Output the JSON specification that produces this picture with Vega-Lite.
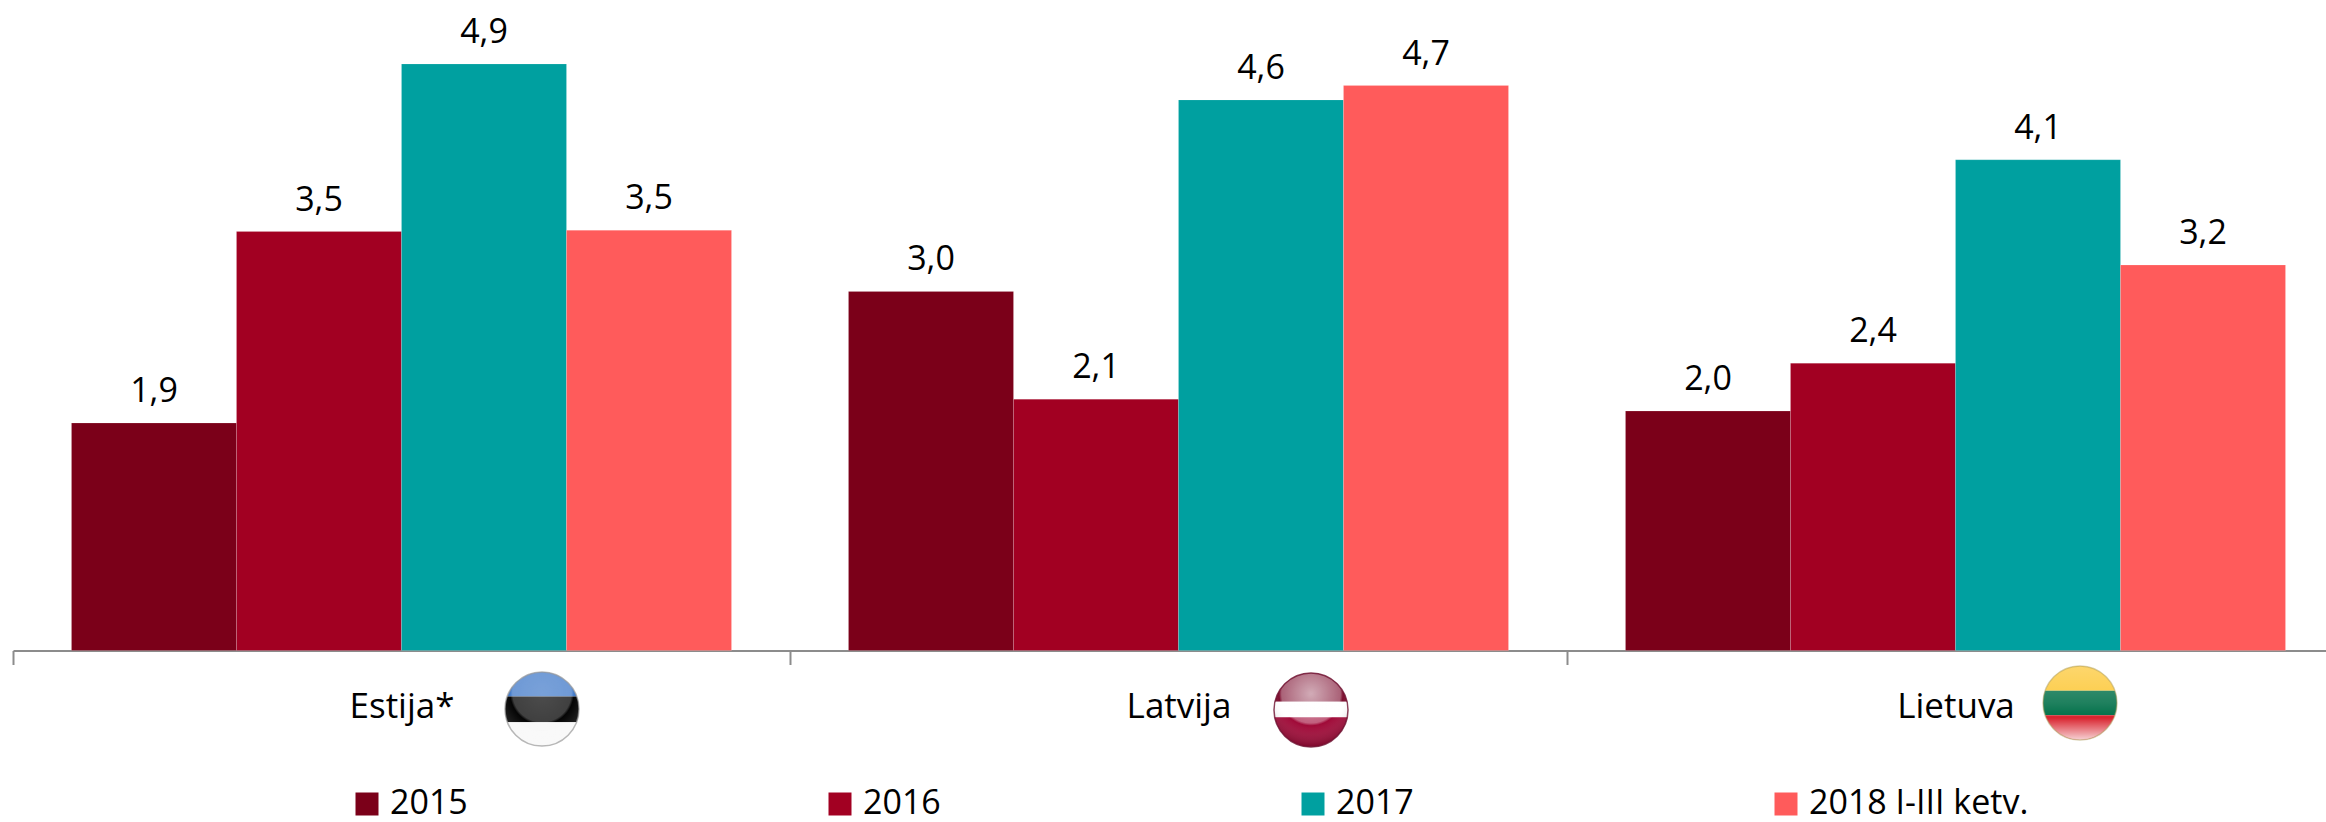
{
"$schema":"https://vega.github.io/schema/vega-lite/v6.json",
"autosize":{"type":"none"},
"width":2331,"height":598.5,
"padding":{"left":13,"top":52,"right":-18,"bottom":171.5},
"background":"white",
"config":{"view":{"stroke":null},"font":"Open Sans"},
"datasets":{
"bars":[
{"country":"Estija*","year":"2015","value":1.9,"label":"1,9"},
{"country":"Estija*","year":"2016","value":3.5,"label":"3,5"},
{"country":"Estija*","year":"2017","value":4.9,"label":"4,9"},
{"country":"Estija*","year":"2018 I-III ketv.","value":3.51,"label":"3,5"},
{"country":"Latvija","year":"2015","value":3.0,"label":"3,0"},
{"country":"Latvija","year":"2016","value":2.1,"label":"2,1"},
{"country":"Latvija","year":"2017","value":4.6,"label":"4,6"},
{"country":"Latvija","year":"2018 I-III ketv.","value":4.72,"label":"4,7"},
{"country":"Lietuva","year":"2015","value":2.0,"label":"2,0"},
{"country":"Lietuva","year":"2016","value":2.4,"label":"2,4"},
{"country":"Lietuva","year":"2017","value":4.1,"label":"4,1"},
{"country":"Lietuva","year":"2018 I-III ketv.","value":3.22,"label":"3,2"}
],
"flags":[
{"country":"Estija*","stripe":"EE1"},{"country":"Estija*","stripe":"EE2"},{"country":"Estija*","stripe":"EE3"},
{"country":"Latvija","stripe":"LV1"},{"country":"Latvija","stripe":"LV2"},{"country":"Latvija","stripe":"LV3"},
{"country":"Lietuva","stripe":"LT1"},{"country":"Lietuva","stripe":"LT2"},{"country":"Lietuva","stripe":"LT3"}
]
},
"encoding":{
"x":{"field":"country","type":"nominal","sort":null,"scale":{"paddingInner":0,"paddingOuter":0},
"axis":{"title":null,"labelAngle":0,"labelFontSize":35,"labelColor":"#000000","labelFont":"Open Sans","labelBaseline":"alphabetic","labelPadding":53,"domainColor":"#8c8c8c","domainWidth":2,"tickColor":"#8c8c8c","tickWidth":2,"tickSize":14,"tickBand":"extent","grid":false}}
},
"layer":[
{"data":{"name":"bars"},"mark":{"type":"bar","stroke":"#ffffff","strokeOpacity":0.25,"strokeWidth":0.6},
"encoding":{
"xOffset":{"field":"year","type":"nominal","sort":null,"scale":{"paddingInner":0,"paddingOuter":0.3545}},
"y":{"field":"value","type":"quantitative","scale":{"domain":[0,5],"nice":false,"zero":true},"axis":null},
"color":{"field":"year","type":"nominal","sort":null,"scale":{"domain":["2015","2016","2017","2018 I-III ketv."],"range":["#7b0019","#a20022","#00a0a0","#ff5b5b"]},
"legend":{"title":null,"orient":"none","legendX":337,"legendY":735,"direction":"horizontal","columns":4,"gridAlign":"all","columnPadding":213,"symbolType":"square","symbolSize":529,"symbolStrokeWidth":0,"labelFontSize":34,"labelFont":"Open Sans","labelColor":"#000000","labelOffset":6,"labelLimit":500}}
}},
{"data":{"name":"bars"},"mark":{"type":"text","fontSize":34,"font":"Open Sans","color":"#000000","baseline":"alphabetic","align":"center","dy":-21},
"encoding":{
"xOffset":{"field":"year","type":"nominal","sort":null},
"y":{"field":"value","type":"quantitative"},
"text":{"field":"label","type":"nominal"}
}},
{"data":{"name":"flags"},"transform":[{"filter":"datum.country==='Estija*'"}],"mark":{"type":"point","filled":true,"opacity":1,"size":5476,"xOffset":140.5,"yOffset":58.5},
"encoding":{"y":{"datum":0},
"shape":{"field":"stripe","type":"nominal","legend":null,"scale":{"domain":["EE1","EE2","EE3","LV1","LV2","LV3","LT1","LT2","LT3"],"range":["M -0.94,-0.34 A 1 1 0 0 1 0.94,-0.34 Z","M -0.94,-0.34 L 0.94,-0.34 A 1 1 0 0 1 0.934,0.357 L -0.934,0.357 A 1 1 0 0 1 -0.94,-0.34 Z","M 0.934,0.357 A 1 1 0 0 1 -0.934,0.357 Z","M -0.975,-0.22 A 1 1 0 0 1 0.975,-0.22 Z","M -0.975,-0.22 L 0.975,-0.22 A 1 1 0 0 1 0.98,0.195 L -0.98,0.195 A 1 1 0 0 1 -0.975,-0.22 Z","M 0.98,0.195 A 1 1 0 0 1 -0.98,0.195 Z","M -0.943,-0.333 A 1 1 0 0 1 0.943,-0.333 Z","M -0.943,-0.333 L 0.943,-0.333 A 1 1 0 0 1 0.943,0.333 L -0.943,0.333 A 1 1 0 0 1 -0.943,-0.333 Z","M 0.943,0.333 A 1 1 0 0 1 -0.943,0.333 Z"]}},
"fill":{"field":"stripe","type":"nominal","legend":null,"scale":{"domain":["EE1","EE2","EE3","LV1","LV2","LV3","LT1","LT2","LT3"],"range":["#3f78c8","#000000","#f8f8f8","#7d0f30","#ffffff","#a00a38","#fcc52e","#006f48","#d9242f"]}}
}},
{"data":{"name":"flags"},"transform":[{"filter":"datum.country==='Latvija'"}],"mark":{"type":"point","filled":true,"opacity":1,"size":5476,"xOffset":132.5,"yOffset":59.5},
"encoding":{"y":{"datum":0},
"shape":{"field":"stripe","type":"nominal","legend":null},
"fill":{"field":"stripe","type":"nominal","legend":null}
}},
{"data":{"name":"flags"},"transform":[{"filter":"datum.country==='Lietuva'"}],"mark":{"type":"point","filled":true,"opacity":1,"size":5476,"xOffset":124.5,"yOffset":52.5},
"encoding":{"y":{"datum":0},
"shape":{"field":"stripe","type":"nominal","legend":null},
"fill":{"field":"stripe","type":"nominal","legend":null}
}},
{"data":{"name":"flags"},"transform":[{"filter":"datum.stripe==='EE1'"}],"mark":{"type":"point","shape":"M -1,0 A 1 1 0 1 1 1,0 A 1 1 0 1 1 -1,0 Z","size":5476,"xOffset":140.5,"yOffset":58.5,"opacity":1,"strokeWidth":1.5,"stroke":"#9a9a9a","strokeOpacity":0.7,"fill":{"gradient":"radial","x1":0.5,"y1":0.28,"r1":0,"x2":0.5,"y2":0.28,"r2":0.72,"stops":[{"offset":0,"color":"rgba(255,255,255,0.3)"},{"offset":0.55,"color":"rgba(255,255,255,0.25)"},{"offset":0.6,"color":"rgba(255,255,255,0.02)"},{"offset":1,"color":"rgba(255,255,255,0.2)"}]}},"encoding":{"y":{"datum":0}}},
{"data":{"name":"flags"},"transform":[{"filter":"datum.stripe==='LV1'"}],"mark":{"type":"point","shape":"M -1,0 A 1 1 0 1 1 1,0 A 1 1 0 1 1 -1,0 Z","size":5476,"xOffset":132.5,"yOffset":59.5,"opacity":1,"strokeWidth":1.5,"stroke":"#6e1030","strokeOpacity":0.8,"fill":{"gradient":"radial","x1":0.5,"y1":0.28,"r1":0,"x2":0.5,"y2":0.28,"r2":0.72,"stops":[{"offset":0,"color":"rgba(255,255,255,0.65)"},{"offset":0.55,"color":"rgba(255,255,255,0.35)"},{"offset":0.6,"color":"rgba(255,255,255,0)"},{"offset":1,"color":"rgba(40,0,10,0.3)"}]}},"encoding":{"y":{"datum":0}}},
{"data":{"name":"flags"},"transform":[{"filter":"datum.stripe==='LT1'"}],"mark":{"type":"point","shape":"M -1,0 A 1 1 0 1 1 1,0 A 1 1 0 1 1 -1,0 Z","size":5476,"xOffset":124.5,"yOffset":52.5,"opacity":1,"strokeWidth":1.5,"stroke":"#b0a060","strokeOpacity":0.5,"fill":{"gradient":"linear","x1":0,"y1":0,"x2":0,"y2":1,"stops":[{"offset":0,"color":"rgba(255,255,255,0.3)"},{"offset":0.5,"color":"rgba(255,255,255,0.12)"},{"offset":0.7,"color":"rgba(255,255,255,0)"},{"offset":1,"color":"rgba(255,255,255,0.8)"}]}},"encoding":{"y":{"datum":0}}}
],
"resolve":{"scale":{"fill":"shared","shape":"shared"}}
}
